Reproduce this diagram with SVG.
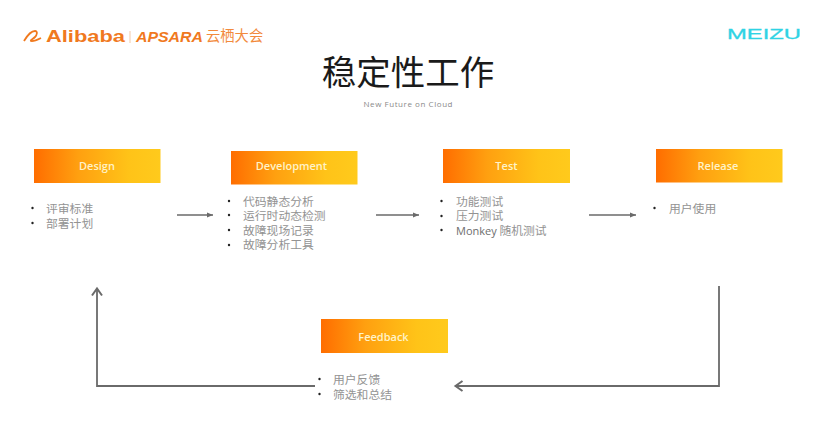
<svg xmlns="http://www.w3.org/2000/svg" width="819" height="438" viewBox="0 0 819 438">
<defs>
<linearGradient id="g" x1="0" y1="0" x2="1" y2="0"><stop offset="0" stop-color="#ff6d00"/><stop offset="0.35" stop-color="#ffa010"/><stop offset="0.75" stop-color="#ffc318"/><stop offset="1" stop-color="#ffca1c"/></linearGradient>
<marker id="sm" markerWidth="8" markerHeight="8" refX="6" refY="3" orient="auto" markerUnits="userSpaceOnUse"><path d="M0,0.6 L6,3 L0,5.4 Z" fill="#6a6a6a"/></marker>
<marker id="op" markerWidth="12" markerHeight="14" refX="9.500" refY="6" orient="auto" markerUnits="userSpaceOnUse"><path d="M2,1 L9,6 L2,11" fill="none" stroke="#6a6a6a" stroke-width="2"/></marker>
</defs>
<style>
.bar{fill:url(#g)}
.h{font-family:"Open Sans","Noto Sans CJK SC",sans-serif;font-size:11px;font-weight:600;fill:#fff3c8;text-anchor:middle}
.li{font-family:"Noto Sans CJK SC",sans-serif;font-size:11.800px;fill:#939393}
.en{font-family:"Open Sans","Noto Sans CJK SC",sans-serif;font-size:11px;fill:#6e6e6e}
.dot{fill:#222}
.c{fill:none;stroke:#6a6a6a}
.lat{font-family:"Liberation Sans",sans-serif}
.cjk{font-family:"Noto Sans CJK SC",sans-serif}
.os{font-family:"Open Sans",sans-serif}
</style>
<rect width="819" height="438" fill="#fff"/>
<g id="logos">
<path d="M24,41 C27,36 31,31 35,31 C38,31 37,35 35,37 C33,39 30,40 31,41 C33,41.500 37,40 41,38" fill="none" stroke="#f0791e" stroke-width="1.800"/>
<text class="lat" x="46" y="42" font-size="17" font-weight="700" fill="#f0791e" textLength="79" lengthAdjust="spacingAndGlyphs">Alibaba</text>
<rect x="129.500" y="31" width="1" height="12" fill="#f3c9a8"/>
<text class="lat" x="136" y="42" font-size="15" font-weight="700" font-style="italic" fill="#f0791e" textLength="67" lengthAdjust="spacingAndGlyphs">APSARA</text>
<text class="cjk" x="206" y="41" font-size="14.300" fill="#f28a3c">云栖大会</text>
<text class="lat" x="727" y="39" font-size="15.500" fill="#2fd3e4" stroke="#2fd3e4" stroke-width="0.300" textLength="74" lengthAdjust="spacingAndGlyphs">MEIZU</text>
</g>
<g id="title">
<text class="cjk" x="408" y="85" font-size="34.500" text-anchor="middle" fill="#1a1a1a">稳定性工作</text>
<text class="os" x="408" y="107" font-size="8" text-anchor="middle" fill="#8a8a8a" textLength="89" lengthAdjust="spacing">New Future on Cloud</text>
</g>
<g id="connectors">
<path class="c" stroke-width="1.300" marker-end="url(#sm)" d="M177,215 H213"/>
<path class="c" stroke-width="1.300" marker-end="url(#sm)" d="M376,215 H419"/>
<path class="c" stroke-width="1.300" marker-end="url(#sm)" d="M589,215 H636"/>
<path class="c" stroke-width="1.800" marker-end="url(#op)" d="M719,286 V386 H455"/>
<path class="c" stroke-width="1.800" marker-end="url(#op)" d="M315,386 H97 V288"/>
</g>
<g id="design">
<rect class="bar" x="34" y="149" width="126.500" height="34"/>
<text class="h" x="97" y="170">Design</text>
<circle class="dot" cx="32.500" cy="208" r="1.200"/><circle class="dot" cx="32.500" cy="223" r="1.200"/>
<text class="li"><tspan x="46" y="213">评审标准</tspan><tspan x="46" y="228">部署计划</tspan></text>
</g>
<g id="development">
<rect class="bar" x="231" y="151" width="126.500" height="33.500"/>
<text class="h" x="291.500" y="170">Development</text>
<circle class="dot" cx="229" cy="201" r="1.200"/><circle class="dot" cx="229" cy="215" r="1.200"/><circle class="dot" cx="229" cy="230" r="1.200"/><circle class="dot" cx="229" cy="245" r="1.200"/>
<text class="li"><tspan x="243" y="206">代码静态分析</tspan><tspan x="243" y="220">运行时动态检测</tspan><tspan x="243" y="235">故障现场记录</tspan><tspan x="243" y="249">故障分析工具</tspan></text>
</g>
<g id="test">
<rect class="bar" x="443" y="149" width="127" height="34"/>
<text class="h" x="506.500" y="170">Test</text>
<circle class="dot" cx="441.500" cy="201" r="1.200"/><circle class="dot" cx="441.500" cy="216" r="1.200"/><circle class="dot" cx="441.500" cy="230" r="1.200"/>
<text class="li"><tspan x="456" y="206">功能测试</tspan><tspan x="456" y="220">压力测试</tspan><tspan x="456" y="235" class="en">Monkey</tspan><tspan> 随机测试</tspan></text>
</g>
<g id="release">
<rect class="bar" x="656" y="149" width="126.500" height="33.500"/>
<text class="h" x="718" y="170">Release</text>
<circle class="dot" cx="654.500" cy="208" r="1.200"/>
<text class="li" x="669" y="213">用户使用</text>
</g>
<g id="feedback">
<rect class="bar" x="321" y="319" width="127" height="34"/>
<text class="h" x="383.500" y="341">Feedback</text>
<circle class="dot" cx="319.500" cy="379" r="1.200"/><circle class="dot" cx="319.500" cy="394" r="1.200"/>
<text class="li"><tspan x="333" y="384">用户反馈</tspan><tspan x="333" y="399">筛选和总结</tspan></text>
</g>
</svg>
